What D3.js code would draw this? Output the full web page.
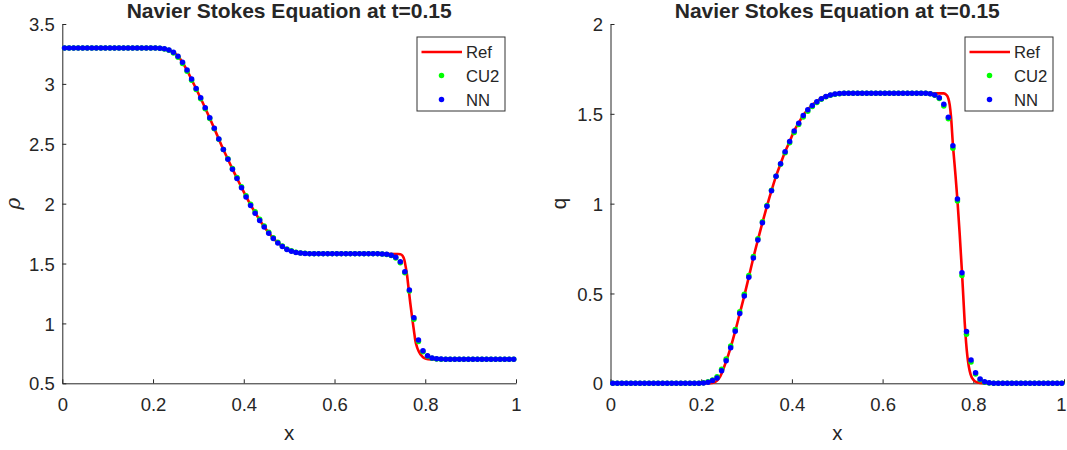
<!DOCTYPE html>
<html><head><meta charset="utf-8">
<script src="https://cdn.jsdelivr.net/npm/d3@7/dist/d3.min.js"></script>
<style>
body{margin:0;background:#fff}
text{font-family:"Liberation Sans",Arial,Helvetica,sans-serif;fill:#262626}
</style>
</head><body>
<svg id="chart" width="1067" height="450"></svg>
<script>
// ---------- data ----------
const xGrid = [0.005,0.015,0.025,0.035,0.045,0.055,0.065,0.075,0.085,0.095,
0.105,0.115,0.125,0.135,0.145,0.155,0.165,0.175,0.185,0.195,
0.205,0.215,0.225,0.235,0.245,0.255,0.265,0.275,0.285,0.295,
0.305,0.315,0.325,0.335,0.345,0.355,0.365,0.375,0.385,0.395,
0.405,0.415,0.425,0.435,0.445,0.455,0.465,0.475,0.485,0.495,
0.505,0.515,0.525,0.535,0.545,0.555,0.565,0.575,0.585,0.595,
0.605,0.615,0.625,0.635,0.645,0.655,0.665,0.675,0.685,0.695,
0.705,0.715,0.725,0.735,0.745,0.755,0.765,0.775,0.785,0.795,
0.805,0.815,0.825,0.835,0.845,0.855,0.865,0.875,0.885,0.895,
0.905,0.915,0.925,0.935,0.945,0.955,0.965,0.975,0.985,0.995];

const rhoNN = [3.3,3.3,3.3,3.3,3.3,3.3,3.3,3.3,3.3,3.3,
3.3,3.3,3.3,3.3,3.3,3.3,3.3,3.3,3.3,3.3,
3.3,3.298,3.293,3.283,3.264,3.230,3.180,3.116,3.040,2.962,
2.884,2.800,2.717,2.630,2.540,2.452,2.370,2.288,2.210,2.132,
2.056,1.984,1.920,1.859,1.804,1.753,1.709,1.671,1.642,1.618,
1.603,1.593,1.587,1.584,1.582,1.582,1.582,1.582,1.582,1.582,
1.582,1.582,1.582,1.582,1.582,1.582,1.582,1.582,1.582,1.582,
1.580,1.577,1.570,1.552,1.514,1.432,1.279,1.048,0.861,0.771,
0.729,0.712,0.705,0.702,0.700,0.700,0.700,0.700,0.700,0.700,
0.700,0.700,0.700,0.700,0.700,0.700,0.700,0.700,0.700,0.700];

const rhoCU2 = [3.3,3.3,3.3,3.3,3.3,3.3,3.3,3.3,3.3,3.3,
3.3,3.3,3.3,3.3,3.3,3.3,3.3,3.3,3.3,3.3,
3.3,3.298,3.292,3.280,3.258,3.222,3.170,3.106,3.030,2.953,
2.875,2.793,2.711,2.626,2.538,2.453,2.374,2.294,2.219,2.142,
2.067,1.996,1.932,1.870,1.814,1.762,1.716,1.677,1.647,1.622,
1.606,1.595,1.588,1.585,1.582,1.582,1.582,1.582,1.582,1.582,
1.582,1.582,1.582,1.582,1.582,1.582,1.582,1.582,1.582,1.582,
1.580,1.576,1.568,1.547,1.506,1.423,1.270,1.035,0.849,0.763,
0.725,0.709,0.703,0.701,0.700,0.700,0.700,0.700,0.700,0.700,
0.700,0.700,0.700,0.700,0.700,0.700,0.700,0.700,0.700,0.700];

const qNN = [0,0,0,0,0,0,0,0,0,0,
0,0,0,0,0,0,0,0,0,0,
0.002,0.006,0.015,0.030,0.070,0.126,0.198,0.290,0.388,0.486,
0.591,0.698,0.798,0.894,0.986,1.072,1.153,1.222,1.289,1.346,
1.405,1.448,1.491,1.522,1.546,1.567,1.584,1.597,1.605,1.610,
1.613,1.614,1.614,1.614,1.614,1.614,1.614,1.614,1.614,1.614,
1.614,1.614,1.614,1.614,1.614,1.614,1.614,1.614,1.614,1.614,
1.612,1.605,1.590,1.553,1.481,1.322,1.026,0.616,0.288,0.130,
0.059,0.024,0.008,0.003,0,0,0,0,0,0,
0,0,0,0,0,0,0,0,0,0];

const qCU2 = [0,0,0,0,0,0,0,0,0,0,
0,0,0,0,0,0,0,0,0,0,
0.003,0.008,0.019,0.036,0.078,0.135,0.208,0.300,0.398,0.496,
0.600,0.706,0.805,0.899,0.990,1.074,1.153,1.220,1.284,1.339,
1.396,1.440,1.483,1.515,1.541,1.563,1.581,1.595,1.604,1.609,
1.612,1.614,1.614,1.614,1.614,1.614,1.614,1.614,1.614,1.614,
1.614,1.614,1.614,1.614,1.614,1.614,1.614,1.614,1.614,1.614,
1.612,1.603,1.585,1.543,1.473,1.308,1.015,0.600,0.273,0.118,
0.052,0.020,0.006,0.002,0,0,0,0,0,0,
0,0,0,0,0,0,0,0,0,0];

const refRhoX = [0,0.2,0.215,0.225,0.235,0.245,0.255,0.265,0.275,0.285,0.295,0.305,0.315,0.325,0.335,0.345,
0.355,0.365,0.375,0.385,0.395,0.405,0.415,0.425,0.435,0.445,0.455,0.465,0.475,0.485,0.495,0.505,0.515,0.525,
0.54,0.6,0.7,0.74,0.745,0.75,0.754,0.757,0.76,0.763,0.767,0.771,0.775,0.778,0.782,0.786,0.792,0.798,0.806,0.82,1];
const refRho = [3.3,3.3,3.299,3.294,3.284,3.264,3.231,3.178,3.112,3.036,2.958,2.880,2.797,2.714,2.628,2.539,
2.452,2.371,2.290,2.213,2.136,2.061,1.990,1.926,1.864,1.808,1.757,1.712,1.673,1.644,1.620,1.604,1.594,1.588,
1.584,1.582,1.582,1.580,1.578,1.565,1.530,1.470,1.400,1.300,1.170,1.050,0.940,0.860,0.800,0.765,0.730,0.710,0.702,0.700,0.700];

const refQX = [0,0.22,0.228,0.235,0.24,0.245,0.25,0.255,0.26,0.265,0.275,0.285,0.295,0.305,0.315,0.325,0.335,
0.345,0.355,0.365,0.375,0.385,0.395,0.405,0.415,0.425,0.435,0.445,0.455,0.465,0.475,0.485,0.495,0.51,0.6,0.735,
0.740,0.745,0.748,0.751,0.755,0.760,0.765,0.770,0.775,0.778,0.781,0.784,0.787,0.790,0.794,0.800,0.810,0.820,1];
const refQ = [0,0,0.004,0.015,0.030,0.055,0.088,0.122,0.160,0.200,0.290,0.388,0.487,0.592,0.699,0.798,0.894,
0.986,1.072,1.153,1.222,1.289,1.346,1.405,1.450,1.492,1.524,1.549,1.570,1.587,1.599,1.607,1.611,1.614,1.614,1.614,
1.607,1.585,1.550,1.480,1.330,1.180,1.020,0.830,0.620,0.480,0.340,0.230,0.150,0.095,0.050,0.020,0.004,0,0];

const xTicks = [0,0.2,0.4,0.6,0.8,1];
const xTickLabels = ["0","0.2","0.4","0.6","0.8","1"];
const rhoTicks = [0.5,1,1.5,2,2.5,3,3.5];
const rhoTickLabels = ["0.5","1","1.5","2","2.5","3","3.5"];
const qTicks = [0,0.5,1,1.5,2];
const qTickLabels = ["0","0.5","1","1.5","2"];
const titleText = "Navier Stokes Equation at t=0.15";
const legendNames = ["Ref","CU2","NN"];
const xLabel = "x";

// ---------- drawing ----------
const svg = d3.select("#chart");
const COL = {ref:"#ff0000", cu2:"#00ff00", nn:"#0000ff", axis:"#262626"};
const R = 2.75;
const W = 1067;

function panel(cfg){
  const g = svg.append("g");
  const x = d3.scaleLinear().domain([0,1]).range([cfg.x0, cfg.x1]);
  const y = d3.scaleLinear().domain(cfg.yDomain).range([cfg.yBottom, cfg.yTop]);

  // axes
  const ax = g.append("g").attr("transform",`translate(0,${cfg.yBottom})`)
    .call(d3.axisBottom(x).tickValues(xTicks).tickFormat((d,i)=>xTickLabels[i])
      .tickSizeInner(-4).tickSizeOuter(0).tickPadding(15));
  const ay = g.append("g").attr("transform",`translate(${cfg.x0},0)`)
    .call(d3.axisLeft(y).tickValues(cfg.yTicks).tickFormat((d,i)=>cfg.yTickLabels[i])
      .tickSizeInner(-4).tickSizeOuter(0).tickPadding(7.5));
  [ax,ay].forEach(a=>{
    a.select(".domain").attr("stroke",COL.axis).attr("stroke-width",1);
    a.selectAll(".tick line").attr("stroke",COL.axis).attr("stroke-width",1);
    a.selectAll("text").attr("font-size",18.5).attr("fill",COL.axis)
      .style("font-family",'"Liberation Sans",Arial,sans-serif');
  });
  ay.selectAll("text").attr("dy","0.36em");
  // keep tick labels inside the picture at the right edge
  ax.selectAll(".tick text").each(function(){
    const bb = this.getBBox();
    const tr = this.parentNode.getAttribute("transform");
    const tx = +tr.match(/translate\(([-\d.]+)/)[1];
    const over = tx + bb.x + bb.width - (W - 0.5);
    if (over > 0) d3.select(this).attr("x", -over);
  });

  // reference line
  const line = d3.line().x(d=>x(d[0])).y(d=>y(d[1])).curve(d3.curveMonotoneX);
  g.append("path").datum(cfg.refX.map((v,i)=>[v,cfg.refY[i]]))
    .attr("d",line).attr("fill","none").attr("stroke",COL.ref).attr("stroke-width",2.6);

  // CU2 dots
  g.append("g").selectAll("circle").data(xGrid.map((v,i)=>[v,cfg.cu2[i]])).join("circle")
    .attr("cx",d=>x(d[0])).attr("cy",d=>y(d[1])).attr("r",R).attr("fill",COL.cu2);
  // NN dots
  g.append("g").selectAll("circle").data(xGrid.map((v,i)=>[v,cfg.nn[i]])).join("circle")
    .attr("cx",d=>x(d[0])).attr("cy",d=>y(d[1])).attr("r",R).attr("fill",COL.nn);

  // title
  g.append("text").attr("x",(cfg.x0+cfg.x1)/2).attr("y",17.5).attr("text-anchor","middle")
    .attr("font-size",21).attr("font-weight","bold").attr("fill","#000").text(titleText);
  // x label
  g.append("text").attr("x",(cfg.x0+cfg.x1)/2).attr("y",440).attr("text-anchor","middle")
    .attr("font-size",20.5).text(xLabel);
  // y label
  const ym = (cfg.yTop+cfg.yBottom)/2;
  g.append("text").attr("transform",`translate(${cfg.yLabelX},${ym}) rotate(-90)`)
    .attr("text-anchor","middle").attr("font-size",20.5)
    .style("font-family",cfg.yLabelFont).style("font-style",cfg.yLabelStyle)
    .text(cfg.yLabel);

  // legend
  const lx = cfg.x1 - 11 - 88, ly = 37;
  const lg = g.append("g");
  lg.append("rect").attr("x",lx).attr("y",ly).attr("width",88).attr("height",74)
    .attr("fill","#fff").attr("stroke","#333").attr("stroke-width",1);
  const rows = [ly+15, ly+38.5, ly+62.5];
  lg.append("line").attr("x1",lx+4.5).attr("x2",lx+45).attr("y1",rows[0]).attr("y2",rows[0])
    .attr("stroke",COL.ref).attr("stroke-width",2.6);
  lg.append("circle").attr("cx",lx+24.5).attr("cy",rows[1]).attr("r",R).attr("fill",COL.cu2);
  lg.append("circle").attr("cx",lx+24.5).attr("cy",rows[2]).attr("r",R).attr("fill",COL.nn);
  legendNames.forEach((n,i)=>{
    lg.append("text").attr("x",lx+49).attr("y",rows[i]).attr("dy","0.36em")
      .attr("font-size",16.7).attr("fill","#000").text(n);
  });
}

panel({x0:62.3, x1:516, yTop:24, yBottom:383.3, yDomain:[0.5,3.5],
  yTicks:rhoTicks, yTickLabels:rhoTickLabels, refX:refRhoX, refY:refRho,
  cu2:rhoCU2, nn:rhoNN, yLabel:"ρ", yLabelX:20, yLabelFont:'"DejaVu Serif","Liberation Serif",serif', yLabelStyle:"italic"});
panel({x0:610.5, x1:1064, yTop:24, yBottom:383.3, yDomain:[0,2],
  yTicks:qTicks, yTickLabels:qTickLabels, refX:refQX, refY:refQ,
  cu2:qCU2, nn:qNN, yLabel:"q", yLabelX:566, yLabelFont:'"Liberation Sans",Arial,sans-serif', yLabelStyle:"normal"});
</script>
</body></html>
